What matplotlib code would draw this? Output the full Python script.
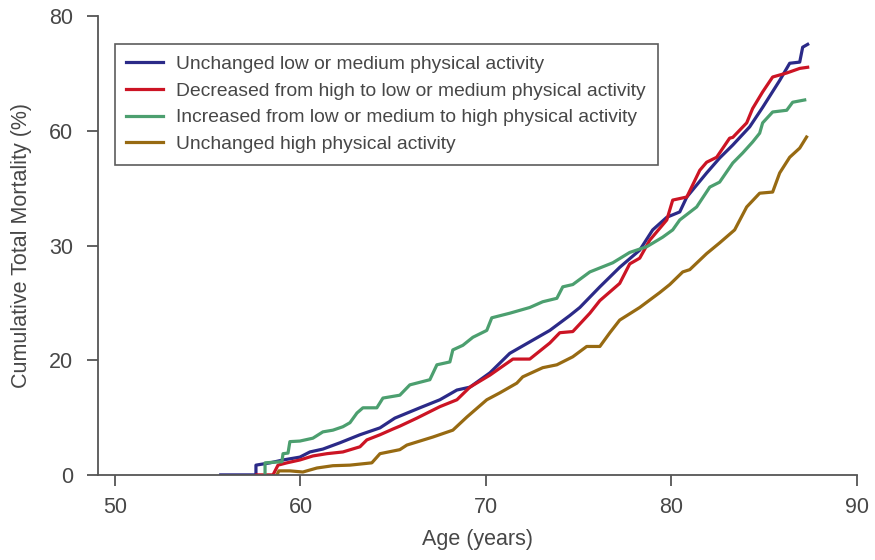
import numpy as np
import matplotlib
matplotlib.use('Agg')
import matplotlib.pyplot as plt

plt.rcParams['font.family'] = ['Liberation Sans', 'DejaVu Sans']

# cumulative mortality curves: age (years), mortality (%)
blue_age = [55.7, 57.6, 57.6, 58.36, 59.06, 59.97, 60.51, 61.21, 62.13, 63.21, 64.29, 65.09,
            66.44, 67.52, 68.44, 69.14, 70.22, 71.29, 72.37, 73.45, 74.53, 75.07, 75.61, 76.15,
            77.22, 78.30, 79.00, 79.76, 80.46, 80.84, 81.91, 82.61, 83.32, 84.23, 84.93, 85.85,
            86.39, 86.93, 87.09, 87.36]
blue_val = [0, 0, 1.7, 2.1, 2.6, 3.1, 4.0, 4.5, 5.6, 7.0, 8.2, 9.9,
            11.7, 13.1, 14.8, 15.3, 17.8, 20.6, 21.6, 22.6, 23.9, 24.6, 25.5, 26.4,
            28.1, 29.6, 34.1, 37.4, 38.8, 42.7, 49.0, 52.9, 56.3, 60.7, 64.1, 68.8,
            71.8, 72.0, 74.6, 75.1]

red_age = [57.65, 58.52, 58.79, 59.27, 59.97, 60.67, 61.43, 62.29, 63.21, 63.58, 64.29, 64.99,
           65.36, 66.28, 67.52, 68.44, 69.14, 70.22, 71.46, 72.37, 73.45, 73.99, 74.69, 75.61,
           76.15, 77.22, 77.76, 78.30, 78.84, 79.76, 80.08, 80.84, 81.54, 81.91, 82.45, 83.15,
           83.32, 84.07, 84.39, 84.93, 85.47, 86.23, 86.93, 87.36]
red_val = [0, 0, 1.7, 2.1, 2.6, 3.3, 3.7, 4.0, 4.9, 6.1, 7.0, 8.0,
           8.5, 9.9, 11.9, 13.1, 15.3, 17.4, 20.1, 20.1, 21.5, 22.4, 22.5, 24.1,
           25.2, 26.7, 28.4, 28.9, 31.4, 36.7, 41.9, 42.7, 49.7, 51.8, 53.1, 58.1,
           58.3, 61.4, 63.9, 66.8, 69.4, 70.1, 70.9, 71.1]

green_age = [58.09, 58.09, 59.00, 59.06, 59.33, 59.43, 59.97, 60.67, 61.21, 61.75, 62.29, 62.67,
             63.05, 63.37, 64.12, 64.45, 65.36, 65.90, 66.98, 67.36, 68.06, 68.22, 68.76, 69.30,
             70.05, 70.32, 71.29, 72.37, 73.07, 73.83, 74.15, 74.69, 75.61, 76.85, 77.76, 78.68,
             79.54, 80.08, 80.46, 81.37, 82.08, 82.61, 83.32, 83.85, 84.39, 84.77, 84.93, 85.47,
             86.23, 86.55, 87.20]
green_val = [0, 2.1, 2.3, 3.7, 3.8, 5.8, 5.9, 6.4, 7.5, 7.8, 8.4, 9.1,
             10.8, 11.7, 11.7, 13.4, 13.9, 15.7, 16.6, 19.2, 19.7, 20.9, 21.3, 22.0,
             22.6, 23.7, 24.1, 24.6, 25.1, 25.4, 26.4, 26.6, 27.7, 28.5, 29.4, 29.9,
             32.2, 34.1, 36.7, 40.1, 45.3, 46.6, 51.6, 54.2, 57.1, 59.4, 61.4, 63.3,
             63.6, 65.0, 65.4]

gold_age = [58.73, 58.84, 59.43, 60.13, 60.89, 61.75, 62.67, 63.85, 64.29, 65.36, 65.74, 67.14,
            68.22, 68.98, 70.05, 70.75, 71.67, 71.99, 73.07, 73.83, 74.69, 75.44, 76.15, 76.69,
            77.22, 78.30, 79.38, 79.92, 80.62, 81.00, 81.91, 82.61, 83.42, 84.07, 84.77, 85.47,
            85.85, 86.39, 86.93, 87.30]
gold_val = [0, 0.7, 0.7, 0.5, 1.2, 1.6, 1.7, 2.1, 3.7, 4.4, 5.2, 6.6,
            7.8, 10.1, 13.1, 14.3, 16.0, 17.1, 18.7, 19.2, 20.3, 21.2, 21.2, 22.4,
            23.5, 24.6, 25.9, 26.6, 27.7, 27.9, 29.3, 30.7, 34.1, 40.1, 43.7, 44.0,
            49.0, 53.1, 55.5, 58.4]

labels = ['Unchanged low or medium physical activity',
          'Decreased from high to low or medium physical activity',
          'Increased from low or medium to high physical activity',
          'Unchanged high physical activity']
colors = ['#2b2a88', '#cc1424', '#4c9f6f', '#976a12']

y_ticks = [0, 20, 30, 60, 80]
x_ticks = [50, 60, 70, 80, 90]

# the y axis puts its ticks at equal spacing although the values are not
tick_pos = np.arange(len(y_ticks))
def fwd(v):
    return np.interp(v, y_ticks, tick_pos)
def inv(p):
    return np.interp(p, tick_pos, y_ticks)

txt = '#474747'
fig = plt.figure(figsize=(8.75, 5.6), dpi=100)
ax = fig.add_axes([0.112, 0.152, 0.867, 0.819])
ax.set_yscale('function', functions=(fwd, inv))

series = [(blue_age, blue_val), (red_age, red_val), (green_age, green_val), (gold_age, gold_val)]
for (a, v), c, lab in zip(series, colors, labels):
    ax.plot(a, v, color=c, lw=2.3, label=lab, solid_joinstyle='round')

ax.set_xlim(49.08, 90)
ax.set_ylim(0, 80)
ax.set_xticks(x_ticks)
ax.set_yticks(y_ticks)
ax.set_yticklabels([str(t) for t in y_ticks])
ax.minorticks_off()
for s in ['top', 'right']:
    ax.spines[s].set_visible(False)
for s in ['left', 'bottom']:
    ax.spines[s].set_color('#555555')
    ax.spines[s].set_linewidth(1.3)
ax.tick_params(axis='y', direction='out', length=8, width=1.3, color='#555555',
               labelsize=15.5, labelcolor=txt, pad=10)
ax.tick_params(axis='x', direction='out', length=8, width=1.3, color='#555555',
               labelsize=15.5, labelcolor=txt, pad=8)
ax.set_xlabel('Age (years)', fontsize=15.5, color=txt, labelpad=8)
ax.set_ylabel('Cumulative Total Mortality (%)', fontsize=15.5, color=txt, labelpad=12)

leg = ax.legend(loc='upper left', bbox_to_anchor=(0.022, 0.94), borderaxespad=0,
                fontsize=13.9, frameon=True, fancybox=False, handlelength=1.9,
                handletextpad=0.7, labelspacing=0.48, borderpad=0.6)
leg.get_frame().set_edgecolor('#333333')
leg.get_frame().set_linewidth(1.2)
for t in leg.get_texts():
    t.set_color(txt)

fig.savefig('out.png', dpi=100)
